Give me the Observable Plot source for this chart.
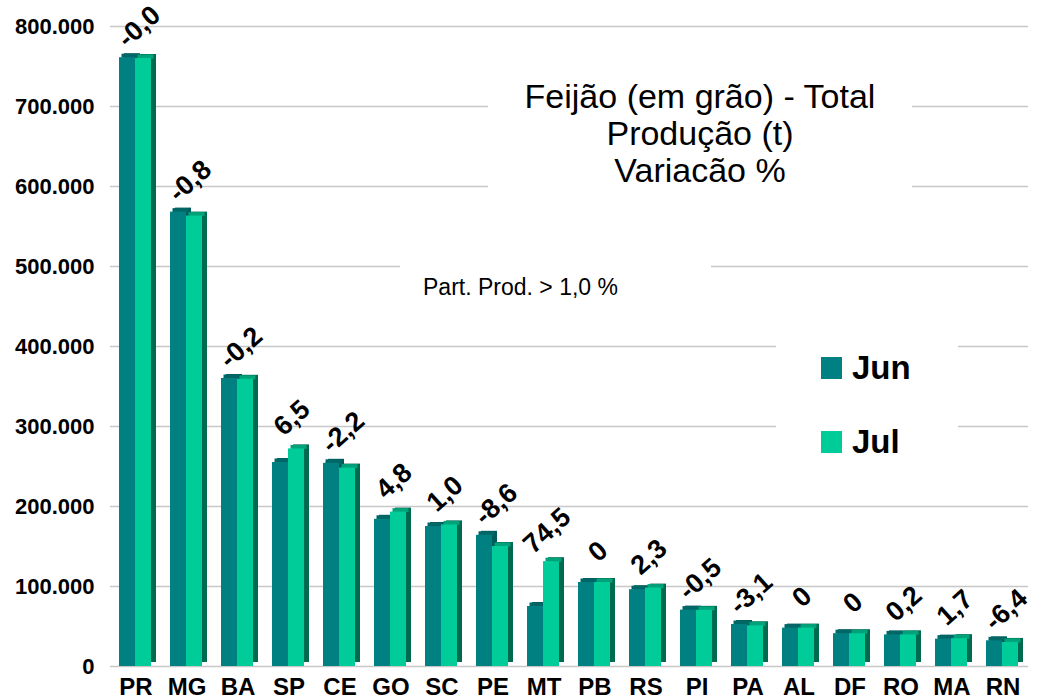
<!DOCTYPE html>
<html>
<head>
<meta charset="utf-8">
<script src="https://cdn.jsdelivr.net/npm/d3@7"></script>
<script src="https://cdn.jsdelivr.net/npm/@observablehq/plot@0.6"></script>
<style>
  html, body { margin: 0; padding: 0; background: #fff; }
  #wrap { position: relative; width: 1044px; height: 700px; font-family: "Liberation Sans", Arial, sans-serif; }
  #wrap svg { position: absolute; left: 0; top: 0; }
  .box { position: absolute; background: #fff; }
  #title { left: 488px; top: 68px; width: 424px; padding: 10px 0 8px 0; text-align: center; font-size: 34px; line-height: 37px; color: #000; }
  #note { left: 400px; top: 256px; width: 311px; height: 44px; }
  #note span { position: absolute; left: 23px; top: 19px; font-size: 23px; line-height: 24px; color: #000; }
  #legend { left: 776px; top: 330px; width: 182px; height: 140px; }
  .sw { position: absolute; width: 21px; height: 22px; }
  .lt { position: absolute; font-size: 33px; font-weight: bold; line-height: 36px; color: #000; }
</style>
</head>
<body>
<div id="wrap"></div>
<script>
const states = ["PR","MG","BA","SP","CE","GO","SC","PE","MT","PB","RS","PI","PA","AL","DF","RO","MA","RN"];
const jun = [761000, 568000, 360000, 255000, 254000, 184000, 175000, 164000, 75000, 105000, 96000, 70500, 52500, 48000, 41000, 39500, 34200, 32100];
const jul = [760000, 563000, 359000, 272000, 248000, 193000, 177000, 150000, 131000, 105000, 98000, 70200, 50900, 48000, 41000, 39600, 34800, 30100];
const variation = ["-0,0","-0,8","-0,2","6,5","-2,2","4,8","1,0","-8,6","74,5","0","2,3","-0,5","-3,1","0","0","0,2","1,7","-6,4"];
const months = ["Jun", "Jul"];
const yTicks = [0, 100000, 200000, 300000, 400000, 500000, 600000, 700000, 800000];

const frontColor = {Jun: "#008080", Jul: "#00cc99"};
const sideColor = {Jun: "#005a5a", Jul: "#006a4e"};
const topColor = {Jun: "#006666", Jul: "#00a27a"};

const data = states.flatMap((s, i) => [
  {state: s, month: "Jun", value: jun[i]},
  {state: s, month: "Jul", value: jul[i]}
]);
const labels = states.map((s, i) => ({state: s, top: Math.max(jun[i], jul[i]), text: variation[i]}));

const fmt = d => d === 0 ? "0" : d3.format(",")(d).replace(/,/g, ".");

const chart = Plot.plot({
  width: 1044,
  height: 700,
  marginLeft: 110,
  marginRight: 16,
  marginTop: 26,
  marginBottom: 34,
  style: {fontFamily: "'Liberation Sans', Arial, sans-serif", background: "transparent", overflow: "visible"},
  fx: {domain: states, padding: 0, label: null},
  x: {domain: months, axis: null, paddingInner: 0, paddingOuter: 0.55, align: 0.45},
  y: {domain: [0, 800000], label: null},
  color: {type: "identity"},
  marks: [
    Plot.ruleY(yTicks, {stroke: "#c8c8c8", strokeWidth: 1.5}),
    Plot.barY(data, {fx: "state", x: "month", y: "value", fill: d => sideColor[d.month], dx: 5, dy: -4}),
    Plot.tickY(data, {fx: "state", x: "month", y: "value", stroke: d => topColor[d.month], strokeWidth: 4, dx: 2.5, dy: -2}),
    Plot.barY(data, {fx: "state", x: "month", y: "value", fill: d => frontColor[d.month]}),
    Plot.text(labels, {fx: "state", y: "top", text: "text", rotate: -42, textAnchor: "middle", lineAnchor: "middle", dx: 3, dy: -31, fontSize: 27, fontWeight: "bold", fill: "#000"}),
    Plot.axisY({ticks: yTicks, tickFormat: fmt, tickSize: 0, tickPadding: 16, fontSize: 22, fontWeight: "bold", label: null, color: "#000"}),
    Plot.axisFx({anchor: "bottom", tickSize: 0, tickPadding: 11, fontSize: 24, fontWeight: "bold", label: null, color: "#000"})
  ]
});

const wrap = document.getElementById("wrap");
wrap.appendChild(chart);

const title = document.createElement("div");
title.className = "box";
title.id = "title";
title.innerHTML = "Feijão (em grão) - Total<br>Produção (t)<br>Variacão %";
wrap.appendChild(title);

const note = document.createElement("div");
note.className = "box";
note.id = "note";
note.innerHTML = "<span>Part. Prod. &gt; 1,0 %</span>";
wrap.appendChild(note);

const legend = document.createElement("div");
legend.className = "box";
legend.id = "legend";
months.forEach((m, i) => {
  const sw = document.createElement("div");
  sw.className = "sw";
  sw.style.left = "45px";
  sw.style.top = (27 + i * 74) + "px";
  sw.style.background = frontColor[m];
  legend.appendChild(sw);
  const t = document.createElement("div");
  t.className = "lt";
  t.style.left = "76px";
  t.style.top = (20 + i * 74) + "px";
  t.textContent = m;
  legend.appendChild(t);
});
wrap.appendChild(legend);
</script>
</body>
</html>
